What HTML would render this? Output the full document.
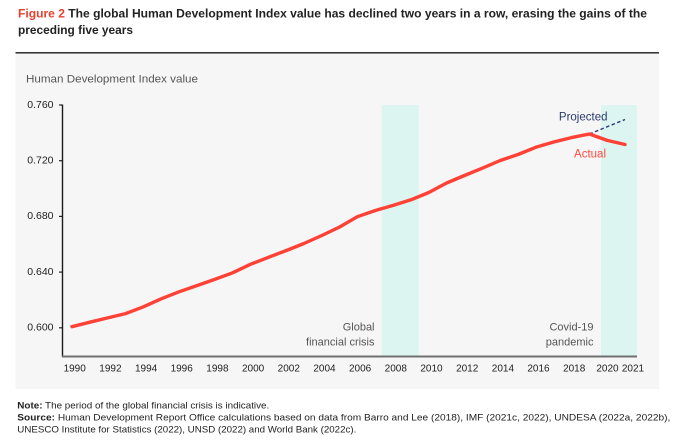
<!DOCTYPE html>
<html>
<head>
<meta charset="utf-8">
<style>
  html,body{margin:0;padding:0;background:#fff;}
  svg{display:block;}
  text{font-family:"Liberation Sans",Arial,sans-serif;}
</style>
</head>
<body>
<svg width="682" height="444" viewBox="0 0 682 444" xmlns="http://www.w3.org/2000/svg">
  <rect x="0" y="0" width="682" height="444" fill="#ffffff"/>

  <!-- Title -->
  <text x="18" y="17.5" font-size="12" font-weight="bold" fill="#222" textLength="629" lengthAdjust="spacingAndGlyphs"><tspan fill="#e8412f">Figure 2</tspan> The global Human Development Index value has declined two years in a row, erasing the gains of the</text>
  <text x="18" y="34" font-size="12" font-weight="bold" fill="#222" textLength="115" lengthAdjust="spacingAndGlyphs">preceding five years</text>

  <!-- Panel -->
  <rect x="15.5" y="53" width="643.5" height="336" fill="#f6f6f6"/>
  <line x1="15.5" y1="52.8" x2="659" y2="52.8" stroke="#1a1a1a" stroke-width="1.4"/>

  <!-- Y axis title -->
  <text x="26" y="82.5" font-size="11" fill="#555" textLength="172" lengthAdjust="spacingAndGlyphs">Human Development Index value</text>

  <!-- Shaded periods -->
  <rect x="381.7" y="105" width="37" height="250.5" fill="#ddf5f0"/>
  <rect x="601" y="105" width="36" height="250.5" fill="#ddf5f0"/>

  <!-- Y ticks & labels -->
  <g font-size="10.5" fill="#222" text-anchor="end">
    <text x="53.5" y="107.8">0.760</text>
    <text x="53.5" y="163.5">0.720</text>
    <text x="53.5" y="219.2">0.680</text>
    <text x="53.5" y="274.9">0.640</text>
    <text x="53.5" y="330.6">0.600</text>
  </g>
  <g stroke="#222" stroke-width="1.2">
    <line x1="59" y1="105" x2="62.5" y2="105"/>
    <line x1="59" y1="160.7" x2="62.5" y2="160.7"/>
    <line x1="59" y1="216.4" x2="62.5" y2="216.4"/>
    <line x1="59" y1="272.1" x2="62.5" y2="272.1"/>
    <line x1="59" y1="327.8" x2="62.5" y2="327.8"/>
  </g>
  <line x1="62.5" y1="104.5" x2="62.5" y2="357" stroke="#1a1a1a" stroke-width="1.4"/>

  <!-- X axis -->
  <line x1="62" y1="356.5" x2="637" y2="356.5" stroke="#707070" stroke-width="2"/>
  <g font-size="10" fill="#222" text-anchor="middle">
    <text x="74.7" y="371.6">1990</text>
    <text x="110.4" y="371.6">1992</text>
    <text x="146.1" y="371.6">1994</text>
    <text x="181.7" y="371.6">1996</text>
    <text x="217.4" y="371.6">1998</text>
    <text x="253.1" y="371.6">2000</text>
    <text x="288.8" y="371.6">2002</text>
    <text x="324.5" y="371.6">2004</text>
    <text x="360.1" y="371.6">2006</text>
    <text x="395.8" y="371.6">2008</text>
    <text x="431.5" y="371.6">2010</text>
    <text x="467.2" y="371.6">2012</text>
    <text x="502.9" y="371.6">2014</text>
    <text x="538.5" y="371.6">2016</text>
    <text x="574.2" y="371.6">2018</text>
    <text x="607.5" y="371.6">2020</text>
    <text x="633" y="371.6">2021</text>
  </g>

  <!-- Annotations -->
  <g font-size="11" fill="#555" text-anchor="end">
    <text x="374.5" y="330.5">Global</text>
    <text x="374.5" y="345.5">financial crisis</text>
    <text x="593.5" y="330.5">Covid-19</text>
    <text x="593.5" y="345.5">pandemic</text>
  </g>

  <!-- Projected dashed -->
  <line x1="589.4" y1="134" x2="625" y2="119.5" stroke="#2b3a75" stroke-width="1.4" stroke-dasharray="3.5,2.5"/>

  <!-- Actual line -->
  <polyline fill="none" stroke="#ff4136" stroke-width="3.4" stroke-linejoin="round" stroke-linecap="round"
    points="72,326.7 89.8,322.2 107.7,317.9 125.5,313.6 143.4,306.8 161.2,298.8 179,291.8 196.9,285.6 214.7,279.4 232.6,272.8 250.4,264.3 268.2,257.4 286.1,250.6 303.9,243.5 321.8,235.5 339.6,227 357.4,216.7 375.3,210.5 393.1,205.4 411,199.8 428.8,192.5 446.6,183 464.5,175.5 482.3,168.2 500.2,160.5 518,154.5 535.8,147.3 553.7,142 571.5,137.6 589.4,134 607.2,140.4 625,144.5"/>

  <text x="607.5" y="120.7" font-size="11.5" fill="#2b3a6b" text-anchor="end">Projected</text>
  <text x="606" y="157.3" font-size="11.5" fill="#ff4a3f" text-anchor="end">Actual</text>

  <!-- Notes -->
  <text x="17.3" y="408.5" font-size="9.5" fill="#222" textLength="252" lengthAdjust="spacingAndGlyphs"><tspan font-weight="bold">Note:</tspan> The period of the global financial crisis is indicative.</text>
  <text x="17.3" y="420.5" font-size="9.5" fill="#222" textLength="653" lengthAdjust="spacingAndGlyphs"><tspan font-weight="bold">Source:</tspan> Human Development Report Office calculations based on data from Barro and Lee (2018), IMF (2021c, 2022), UNDESA (2022a, 2022b),</text>
  <text x="17.3" y="432.5" font-size="9.5" fill="#222" textLength="339" lengthAdjust="spacingAndGlyphs">UNESCO Institute for Statistics (2022), UNSD (2022) and World Bank (2022c).</text>
</svg>
</body>
</html>
